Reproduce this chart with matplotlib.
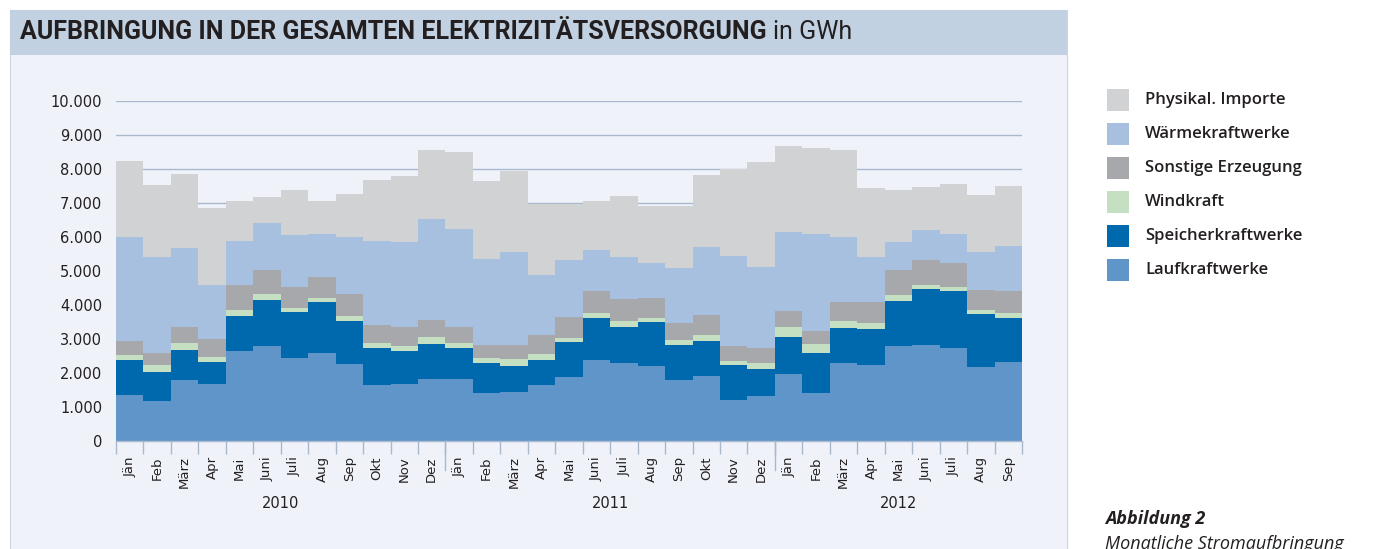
#!/usr/bin/env python3
"""
Aufbringung in der gesamten Elektrizitaetsversorgung (GWh), 2010-2012
Stacked monthly step areas
"""

import numpy as np
import matplotlib
matplotlib.use('Agg')
import matplotlib.pyplot as plt
from matplotlib.patches import Rectangle
from matplotlib.ticker import FuncFormatter

# --- data (GWh per month, Jan 2010 .. Sep 2012) ---
months = ['Jän', 'Feb', 'März', 'Apr', 'Mai', 'Juni', 'Juli', 'Aug', 'Sep', 'Okt', 'Nov', 'Dez',
          'Jän', 'Feb', 'März', 'Apr', 'Mai', 'Juni', 'Juli', 'Aug', 'Sep', 'Okt', 'Nov', 'Dez',
          'Jän', 'Feb', 'März', 'Apr', 'Mai', 'Juni', 'Juli', 'Aug', 'Sep']
years = ['2010', '2011', '2012']
months_per_year = [12, 12, 9]

laufkraftwerke = [1360, 1180, 1780, 1680, 2640, 2780, 2450, 2590, 2260, 1640, 1680, 1820,
                  1830, 1410, 1440, 1650, 1880, 2380, 2300, 2210, 1780, 1910, 1200, 1330,
                  1960, 1420, 2280, 2240, 2780, 2830, 2740, 2190, 2320]
speicherkraftwerke = [1020, 850, 910, 640, 1050, 1360, 1330, 1500, 1280, 1090, 960, 1030,
                      900, 880, 775, 735, 1030, 1235, 1050, 1300, 1050, 1040, 1040, 800,
                      1090, 1175, 1050, 1050, 1340, 1630, 1670, 1560, 1290]
windkraft = [150, 200, 205, 140, 165, 185, 130, 120, 140, 150, 150, 205,
             150, 165, 185, 175, 125, 150, 185, 100, 145, 155, 110, 165,
             295, 265, 205, 175, 165, 125, 125, 90, 165]
sonstige = [420, 365, 460, 530, 745, 715, 625, 625, 655, 520, 550, 510,
            480, 380, 420, 570, 620, 655, 635, 610, 510, 600, 450, 440,
            470, 390, 560, 610, 745, 735, 705, 610, 640]
waermekraftwerke = [3060, 2805, 2325, 1610, 1275, 1375, 1530, 1265, 1675, 2490, 2500, 2960,
                    2890, 2520, 2735, 1765, 1675, 1195, 1245, 1030, 1610, 2000, 2635, 2375,
                    2335, 2835, 1910, 1325, 815, 880, 855, 1120, 1325]
importe = [2235, 2120, 2165, 2265, 1195, 775, 1315, 950, 1255, 1775, 1940, 2030,
           2245, 2295, 2390, 2070, 1645, 1430, 1805, 1655, 1805, 2125, 2560, 3100,
           2530, 2520, 2550, 2040, 1550, 1285, 1470, 1665, 1755]

series = [
    ('Laufkraftwerke', laufkraftwerke, '#6095c9'),
    ('Speicherkraftwerke', speicherkraftwerke, '#0069ad'),
    ('Windkraft', windkraft, '#c5dfc3'),
    ('Sonstige Erzeugung', sonstige, '#a7a8ab'),
    ('Wärmekraftwerke', waermekraftwerke, '#a7c0df'),
    ('Physikal. Importe', importe, '#d1d2d4'),
]

W, H = 1394, 549
PANEL = '#eff3f9'
BAND = '#c1d1e2'
GRID = '#a9b8cc'
TEXT = '#231f20'


def fx(px):
    return px / W


def fy(py):
    return 1 - py / H


fig = plt.figure(figsize=(W / 100, H / 100), dpi=100, facecolor='white')

# panel + title band (behind everything)
fig.patches.append(Rectangle((fx(10), fy(560)), fx(1067) - fx(10), fy(10) - fy(560),
                             transform=fig.transFigure, facecolor=PANEL,
                             edgecolor='#c9d6e6', linewidth=0.8, zorder=-5))
fig.patches.append(Rectangle((fx(10), fy(55)), fx(1067) - fx(10), fy(10) - fy(55),
                             transform=fig.transFigure, facecolor=BAND,
                             edgecolor='none', zorder=-4))

title_font = ['Roboto', 'DejaVu Sans']
t1 = fig.text(fx(20), fy(32), 'AUFBRINGUNG IN DER GESAMTEN ELEKTRIZITÄTSVERSORGUNG',
              fontsize=18, fontweight='bold', family=title_font, color=TEXT,
              va='center', ha='left')
fig.canvas.draw()
bb = t1.get_window_extent()
fig.text(bb.x1 / W + fx(6), fy(32), 'in GWh', fontsize=18, family=title_font,
         color=TEXT, va='center', ha='left')

# chart axes
ax = fig.add_axes([fx(116), fy(441), fx(1022) - fx(116), fy(101) - fy(441)], zorder=2)
ax.set_facecolor('none')
n = len(months)
edges = np.arange(n + 1)
bottom = np.zeros(n)
for name, vals, col in series:
    vals = np.asarray(vals, dtype=float)
    ax.stairs(bottom + vals, edges, baseline=bottom, fill=True,
              facecolor=col, edgecolor='none', zorder=2)
    bottom = bottom + vals

ax.set_xlim(0, n)
ax.set_ylim(0, 10000)
ax.set_yticks(np.arange(0, 10001, 1000))
ax.yaxis.set_major_formatter(FuncFormatter(lambda v, p: f'{int(v):,}'.replace(',', '.')))
ax.grid(True, axis='y', color=GRID, linewidth=1.0, zorder=1)
ax.set_axisbelow(True)
for s in ['top', 'right', 'left']:
    ax.spines[s].set_visible(False)
ax.spines['bottom'].set_color(GRID)
ax.spines['bottom'].set_linewidth(1.0)
ax.tick_params(axis='y', length=0, pad=10, labelsize=10.5, labelcolor=TEXT)

# month labels at centres, ticks at boundaries
ax.set_xticks(np.arange(n) + 0.5)
ax.set_xticklabels(months, rotation=90, fontsize=9.5, color=TEXT)
ax.tick_params(axis='x', which='major', length=0, pad=11)
ax.set_xticks(edges, minor=True)
ax.tick_params(axis='x', which='minor', length=9, color=GRID, width=1.0)

# year separators and labels
start = 0
for yr, cnt in zip(years, months_per_year):
    ax.text(start + cnt / 2, -1850, yr, ha='center', va='center', fontsize=10.5,
            color=TEXT, clip_on=False)
    if start > 0:
        ax.plot([start, start], [0, -850], color=GRID, linewidth=1.0, clip_on=False)
    start += cnt

# legend on the right
for i, (name, vals, col) in enumerate(reversed(series)):
    yc = 100 + i * 34
    fig.patches.append(Rectangle((fx(1107), fy(yc + 11)), fx(22), fy(0) - fy(22),
                                 transform=fig.transFigure, facecolor=col,
                                 edgecolor='none'))
    fig.text(fx(1145), fy(yc), name, fontsize=12, fontweight='semibold',
             family=['Open Sans', 'DejaVu Sans'], color=TEXT, va='center', ha='left')

fig.text(fx(1105), fy(519), 'Abbildung 2', fontsize=13, fontweight='bold', style='italic',
         family=['Open Sans', 'DejaVu Sans'], color=TEXT, va='center', ha='left')
fig.text(fx(1105), fy(544), 'Monatliche Stromaufbringung', fontsize=13, style='italic',
         family=['Open Sans', 'DejaVu Sans'], color=TEXT, va='center', ha='left')

fig.savefig('out.png', dpi=100, facecolor='white')
